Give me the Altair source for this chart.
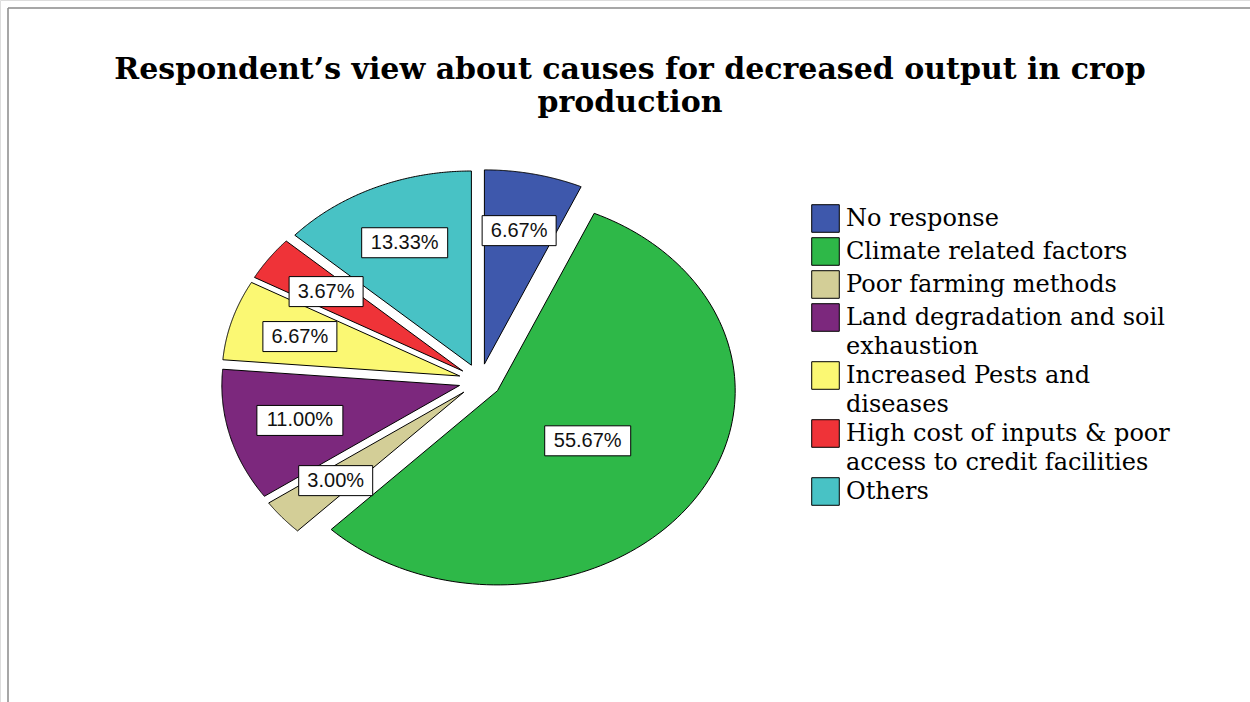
import altair as alt
import pandas as pd

# ---- data ----
categories = [
    "No response",
    "Climate related factors",
    "Poor farming methods",
    "Land degradation and soil exhaustion",
    "Increased Pests and diseases",
    "High cost of inputs & poor access to credit facilities",
    "Others",
]
percentages = [6.67, 55.67, 3.00, 11.00, 6.67, 3.67, 13.33]
colors = ["#3E58AC", "#2EB848", "#D3CE97", "#7C287D", "#FBF873", "#EF3338", "#48C2C5"]
title_lines = ["Respondent\u2019s view about causes for decreased output in crop", "production"]

df = pd.DataFrame({"cat": categories, "pct": percentages, "idx": list(range(len(categories)))})

# ---- geometry / layout ----
W, H = 1250, 702
CX, CY = 480.0, 381.0        # pie centre in pixels
RX, RY = 237.7, 194.2        # pixels per unit radius (pie is drawn as an ellipse)
EXPLODE = 0.089              # explode distance (unit radius)
NSEG = 120                   # arc resolution
LA, LB = 0.14, 0.85          # label radius = LA + LB * sector centroid distance

xscale = alt.Scale(domain=[-CX / RX, (W - CX) / RX], nice=False, zero=False)
yscale = alt.Scale(domain=[-(H - CY) / RY, CY / RY], nice=False, zero=False)

base = (
    alt.Chart(df)
    .transform_joinaggregate(total="sum(pct)")
    .transform_window(cum="sum(pct)", sort=[alt.SortField("idx")], frame=[None, 0])
    .transform_calculate(a0="2*PI*(datum.cum - datum.pct)/datum.total")
    .transform_calculate(a1="2*PI*datum.cum/datum.total")
    .transform_calculate(mid="(datum.a0 + datum.a1)/2")
    .transform_calculate(half="(datum.a1 - datum.a0)/2")
    .transform_calculate(ox=f"{EXPLODE}*sin(datum.mid)")
    .transform_calculate(oy=f"{EXPLODE}*cos(datum.mid)")
)

legend = alt.Legend(
    orient="none",
    legendX=811,
    legendY=204,
    title=None,
    symbolType="square",
    symbolSize=760,
    symbolStrokeColor="black",
    symbolStrokeWidth=1,
    symbolOpacity=1,
    labelFont="DejaVu Serif",
    labelFontSize=24,
    labelColor="black",
    labelOffset=6,
    labelLimit=0,
    rowPadding=0,
    labelExpr="length(datum.label) > 26 ? split(replace(datum.label, regexp('^(.{1,26}) (.*)$'), '$1|$2'), '|') : datum.label",
)

slices = (
    base.transform_calculate(k=f"sequence(0, {NSEG + 2})")
    .transform_flatten(["k"])
    .transform_calculate(a=f"datum.a0 + (datum.k - 1)/{NSEG}*(datum.a1 - datum.a0)")
    .transform_calculate(px="datum.ox + (datum.k == 0 ? 0 : sin(datum.a))")
    .transform_calculate(py="datum.oy + (datum.k == 0 ? 0 : cos(datum.a))")
    .mark_line(interpolate="linear-closed", stroke="black", strokeWidth=1, strokeJoin="round")
    .encode(
        x=alt.X("px:Q", scale=xscale, axis=None),
        y=alt.Y("py:Q", scale=yscale, axis=None),
        order=alt.Order("k:Q"),
        detail="cat:N",
        fill=alt.Fill("cat:N", scale=alt.Scale(domain=categories, range=colors), legend=legend),
    )
)

labels = (
    base.transform_calculate(rl=f"{LA} + {LB}*2*sin(datum.half)/(3*datum.half)")
    .transform_calculate(lx="datum.ox + datum.rl*sin(datum.mid)")
    .transform_calculate(ly="datum.oy + datum.rl*cos(datum.mid)")
    .transform_calculate(txt="format(datum.pct, '.2f') + '%'")
    .transform_calculate(hw="7 + 6*length(datum.txt)")
    .transform_calculate(box="'M' + (-datum.hw) + ',-15H' + datum.hw + 'V15H' + (-datum.hw) + 'Z'")
)

boxes = labels.mark_point(filled=True, fill="white", stroke="black", strokeWidth=1, opacity=1, size=4).encode(
    x=alt.X("lx:Q", scale=xscale, axis=None),
    y=alt.Y("ly:Q", scale=yscale, axis=None),
    shape=alt.Shape("box:N", scale=None),
)

texts = labels.mark_text(font="Liberation Sans", fontSize=20, color="#111111").encode(
    x=alt.X("lx:Q", scale=xscale, axis=None),
    y=alt.Y("ly:Q", scale=yscale, axis=None),
    text="txt:N",
)

frame_df = pd.DataFrame({"f": [0]})
frame_top = alt.Chart(frame_df).mark_rule(color="#8a8a8a", strokeWidth=1.5).encode(
    x=alt.value(8), x2=alt.value(W), y=alt.value(8)
)
frame_left = alt.Chart(frame_df).mark_rule(color="#8a8a8a", strokeWidth=1.5).encode(
    x=alt.value(8), y=alt.value(8), y2=alt.value(H)
)

chart = (
    alt.layer(frame_top, frame_left, slices, boxes, texts)
    .properties(
        width=W,
        height=H,
        autosize=alt.AutoSizeParams(type="none"),
        padding=0,
        background="white",
        title=alt.TitleParams(
            text=title_lines,
            font="DejaVu Serif",
            fontSize=30,
            fontWeight="bold",
            color="black",
            anchor="middle",
            frame="group",
            orient="top",
            baseline="alphabetic",
            lineHeight=33,
            offset=-142,
            dx=5,
        ),
    )
    .configure_view(stroke="transparent")
    .configure(style={"guide-label": {"lineHeight": 29}})
)

chart.save("out.html", embed_options={"renderer": "svg", "actions": False})
